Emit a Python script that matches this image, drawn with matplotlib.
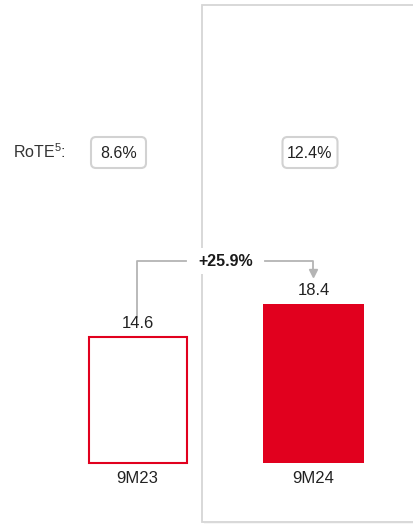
import matplotlib
matplotlib.use("Agg")
import matplotlib.pyplot as plt
from matplotlib.patches import Rectangle, FancyBboxPatch

plt.rcParams['font.family'] = ['Liberation Sans', 'DejaVu Sans']
plt.rcParams['mathtext.fontset'] = 'custom'
plt.rcParams['mathtext.rm'] = 'Liberation Sans'

# profit figures and RoTE per period
periods = ['9M23', '9M24']
profit = [14.6, 18.4]
rote = ['8.6%', '12.4%']
growth = '+25.9%'

red = '#e1001e'
grey_line = '#b4b4b4'
box_edge = '#d2d2d2'

W, H = 413, 525
fig = plt.figure(figsize=(W / 100, H / 100), dpi=100)

# background layer in pixel units
bg = fig.add_axes([0, 0, 1, 1])
bg.set_xlim(0, W)
bg.set_ylim(H, 0)
bg.axis('off')

# card holding the current period
bg.add_patch(Rectangle((204, 7), 230, 517, facecolor='#f0f0f0', edgecolor='none', alpha=0.6, zorder=0))
bg.add_patch(Rectangle((202, 5), 230, 517, facecolor='white', edgecolor='#d6d6d6', linewidth=1.3, zorder=1))

# RoTE row
bg.text(13, 152, r'RoTE$^{\mathrm{5}}$:', fontsize=11.5, color='#333333', va='center', ha='left', zorder=3)
box_x = [118.5, 310]
for x, r in zip(box_x, rote):
    w = 55
    bg.add_patch(FancyBboxPatch((x - w / 2, 137), w, 31,
                                boxstyle='round,pad=0,rounding_size=5',
                                facecolor='white', edgecolor=box_edge, linewidth=1.5, zorder=3))
    bg.text(x, 153, r, fontsize=11.5, color='#222222', ha='center', va='center', zorder=4)

# growth connector
bg.plot([137, 137, 186], [317, 261, 261], color=grey_line, linewidth=1.3, zorder=2)
bg.plot([265, 313, 313], [261, 261, 271], color=grey_line, linewidth=1.3, zorder=2)
bg.plot([313], [273], marker='v', markersize=6, color=grey_line, zorder=2)
bg.text(226, 261, growth, fontsize=11.5, fontweight='bold', color='#1a1a1a', ha='center', va='center',
        bbox=dict(facecolor='white', edgecolor='none', pad=4), zorder=3)

# bars in value units, baseline at pixel 463
bar_x = [137.5, 313.5]
scale = 8.65
ax = fig.add_axes([0, 0, 1, 1])
ax.set_xlim(0, W)
ax.set_ylim(-(H - 463) / scale, 463 / scale)
ax.axis('off')
ax.patch.set_alpha(0)

ax.bar(bar_x[0], profit[0], width=98, facecolor='white', edgecolor=red, linewidth=1.5, zorder=3)
ax.bar(bar_x[1], profit[1], width=101, facecolor=red, edgecolor='none', zorder=3)

for x, v, p in zip(bar_x, profit, periods):
    ax.annotate(f'{v:.1f}', (x, v), xytext=(0, 9.7), textcoords='offset points',
                ha='center', va='center', fontsize=12, color='#222222')
    ax.annotate(p, (x, 0), xytext=(0, -11), textcoords='offset points',
                ha='center', va='center', fontsize=12, color='#222222')

fig.savefig('out.png', dpi=100, facecolor='white')
